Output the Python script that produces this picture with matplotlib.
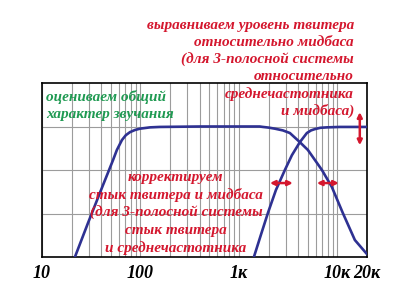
import matplotlib.pyplot as plt

# Midbass curve (Hz, level)
mid_freq = [21.6, 29.3, 40.6, 52.7, 57.6, 64.9, 71, 78.2, 88, 98.9, 125, 157, 400, 1000, 1626,
            1750, 2000, 2318, 2800, 3294, 4160, 5020, 6970, 8790, 11370, 15060, 19920]
mid_level = [0.0, 0.78, 1.59, 2.23, 2.46, 2.69, 2.80, 2.87, 2.92, 2.95, 2.98, 2.99, 3.0, 3.0, 3.0,
             2.99, 2.975, 2.95, 2.91, 2.85, 2.64, 2.46, 2.0, 1.61, 1.01, 0.39, 0.07]

# Tweeter curve
tw_freq = [1420, 1673, 1969, 2377, 2930, 3453, 4160, 4900, 5400, 5910, 6700, 7820, 10600, 20000]
tw_level = [0.0, 0.51, 1.01, 1.54, 2.0, 2.34, 2.64, 2.85, 2.91, 2.94, 2.97, 2.98, 2.99, 2.99]

tick_freq = [10, 100, 1000, 10000, 20000]
tick_labels = ["10", "100", "1к", "10к", "20к"]

top_note = ["выравниваем уровень твитера", "относительно мидбаса",
            "(для 3-полосной системы", "относительно", "среднечастотника", "и мидбаса)"]
left_note = ["оцениваем общий", "характер звучания"]
mid_note = ["корректируем", "стык твитера и мидбаса", "(для 3-полосной системы",
            "стык твитера", "и среднечастотника"]

navy = "#2e3192"
red = "#d4172e"
green = "#1f9a52"
font = dict(family="Liberation Serif", weight="bold", style="italic")

W, H = 400, 287
fig = plt.figure(figsize=(W / 100, H / 100), dpi=100)
ax = fig.add_axes([42 / W, 1 - 257 / H, 325 / W, 174 / H])

ax.plot(mid_freq, mid_level, color=navy, lw=1.9, solid_joinstyle="round", zorder=3)
ax.plot(tw_freq, tw_level, color=navy, lw=1.9, solid_joinstyle="round", zorder=3)

ax.set_xscale("log")
ax.set_xlim(10, 20000)
ax.set_ylim(0, 4)
ax.set_yticks([1, 2, 3])
ax.set_yticklabels([])
ax.set_xticks(tick_freq)
ax.set_xticklabels(tick_labels, fontsize=13, **font)
ax.tick_params(axis="both", which="both", length=0, pad=6)
ax.grid(True, which="both", axis="x", color="#9c9c9c", lw=0.8)
ax.grid(True, which="major", axis="y", color="#9c9c9c", lw=0.8)
for s in ax.spines.values():
    s.set_linewidth(1.2)

# red arrows
arr = dict(arrowstyle="<|-|>", color=red, lw=1.8, mutation_scale=7, shrinkA=0, shrinkB=0)
ax.annotate("", xy=(2065, 1.70), xytext=(3532, 1.70), arrowprops=arr, zorder=4)
ax.annotate("", xy=(6190, 1.70), xytext=(10350, 1.70), arrowprops=arr, zorder=4)
ax.annotate("", xy=(16900, 3.33), xytext=(16900, 2.57), arrowprops=arr,
            annotation_clip=False, zorder=4)

def lines(txt, x, y0, step, color, ha):
    for i, t in enumerate(txt):
        fig.text(x / W, 1 - (y0 + i * step) / H, t, color=color, ha=ha, va="center",
                 fontsize=11, zorder=5, **font)

lines(top_note, 354, 25.5, 17.1, red, "right")
lines(left_note, 46, 97.5, 17, green, "left")
lines(mid_note, 176, 178, 17.5, red, "center")

fig.savefig("out.png", dpi=100)
